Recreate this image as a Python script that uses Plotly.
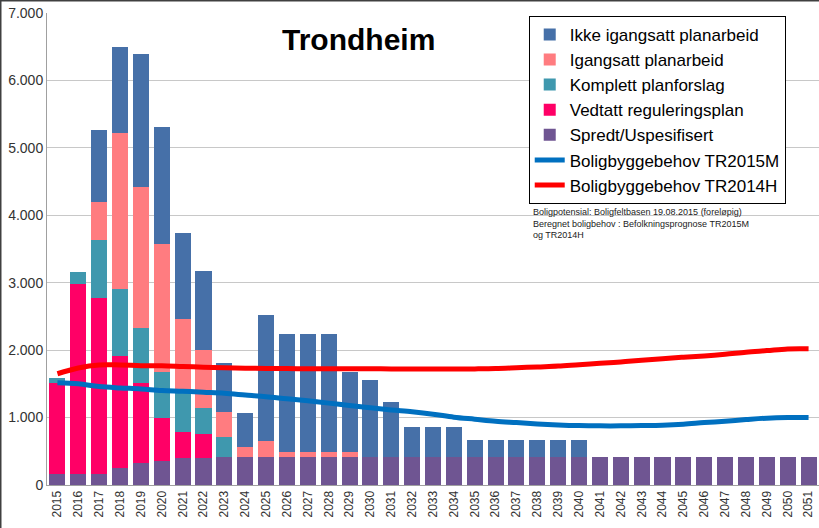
import plotly.graph_objects as go

years = [str(y) for y in range(2015, 2052)]

spredt = [163, 163, 163, 257, 322, 361, 405, 405] + [415] * 29
vedtatt = [1355, 2819, 2617, 1661, 1187, 638, 381, 347] + [0] * 29
komplett = [65, 183, 855, 990, 825, 678, 610, 396, 302] + [0] * 28
igangsatt = [0, 0, 568, 2319, 2092, 1894, 1063, 855, 366, 153, 233, 79, 79, 79, 79] + [0] * 22
ikke = [0, 0, 1064, 1272, 1969, 1737, 1271, 1177, 723, 495, 1870, 1742, 1751, 1742,
        1185, 1143, 812, 451, 451, 451, 253, 253, 253, 253, 253, 253] + [0] * 11

tr2015m = [1515, 1500, 1460, 1440, 1425, 1400, 1390, 1375, 1360, 1335, 1310, 1278, 1248,
           1214, 1178, 1144, 1112, 1085, 1050, 1006, 976, 946, 926, 906, 891, 881, 877,
           877, 881, 887, 902, 926, 946, 970, 991, 1000, 1000]
tr2014h = [1650, 1735, 1780, 1780, 1770, 1768, 1758, 1748, 1740, 1733, 1728, 1726, 1725,
           1725, 1724, 1723, 1722, 1722, 1721, 1721, 1722, 1726, 1738, 1751, 1763, 1785,
           1805, 1825, 1850, 1874, 1895, 1914, 1939, 1969, 1993, 2018, 2020]

bar_series = [
    ("Spredt/Uspesifisert", spredt, "#6F5592", 5),
    ("Vedtatt reguleringsplan", vedtatt, "#FF0066", 4),
    ("Komplett planforslag", komplett, "#3F98AE", 3),
    ("Igangsatt planarbeid", igangsatt, "#FF7C80", 2),
    ("Ikke igangsatt planarbeid", ikke, "#4670A8", 1),
]

fig = go.Figure()
for name, vals, color, rank in bar_series:
    fig.add_trace(go.Bar(x=years, y=vals, name=name, marker_color=color,
                         marker_line_width=0, legendrank=rank))

fig.add_trace(go.Scatter(x=years, y=tr2015m, name="Boligbyggebehov TR2015M", mode="lines",
                         line=dict(color="#0070C0", width=5, shape="spline"), legendrank=6))
fig.add_trace(go.Scatter(x=years, y=tr2014h, name="Boligbyggebehov TR2014H", mode="lines",
                         line=dict(color="#FF0000", width=5, shape="spline"), legendrank=7))

fig.update_layout(
    width=819, height=528,
    margin=dict(l=47, r=0, t=13, b=43),
    barmode="stack", bargap=0.23,
    plot_bgcolor="white", paper_bgcolor="white",
    separators=",.",
    font=dict(family="Liberation Sans, Arial, sans-serif", color="#333333"),
    legend=dict(x=0.624, y=0.994, xanchor="left", yanchor="top",
                traceorder="normal", bgcolor="white", bordercolor="#000000", borderwidth=1,
                font=dict(size=17, color="#000000"), itemwidth=30, tracegroupgap=0),
    xaxis=dict(type="category", tickangle=-90, tickfont=dict(size=12, color="#333333"),
               showline=True, linecolor="#A0A0A0", ticks="", showgrid=False,
               range=[-0.5, len(years) - 0.5]),
    yaxis=dict(range=[0, 7000], dtick=1000, tickformat=",d",
               tickfont=dict(size=14, color="#333333"),
               showgrid=True, gridcolor="#C8C8C8", gridwidth=1,
               showline=True, linecolor="#A0A0A0", zeroline=False, ticks=""),
    annotations=[
        dict(text="<b>Trondheim</b>", xref="paper", yref="paper",
             x=(358 - 47) / 772, y=(485 - 40) / 472, xanchor="center", yanchor="middle",
             showarrow=False, font=dict(size=30, color="#000000")),
        dict(text="Boligpotensial: Boligfeltbasen 19.08.2015 (foreløpig)<br>"
                  "Beregnet boligbehov : Befolkningsprognose TR2015M<br>og TR2014H",
             xref="paper", yref="paper", x=(531 - 47) / 772, y=(485 - 205) / 472,
             xanchor="left", yanchor="top", align="left", showarrow=False,
             font=dict(size=9, color="#222222")),
    ],
    shapes=[
        dict(type="line", xref="paper", yref="paper", x0=-47 / 772, x1=1, y0=(485 - 0.5) / 472,
             y1=(485 - 0.5) / 472, line=dict(color="#404040", width=2)),
        dict(type="line", xref="paper", yref="paper", x0=-46.5 / 772, x1=-46.5 / 772,
             y0=-43 / 472, y1=(485) / 472, line=dict(color="#404040", width=2)),
    ],
)

fig.write_html("out.html", config={"displayModeBar": False},
               post_script="document.body.style.margin='0';document.body.style.overflow='hidden';")
